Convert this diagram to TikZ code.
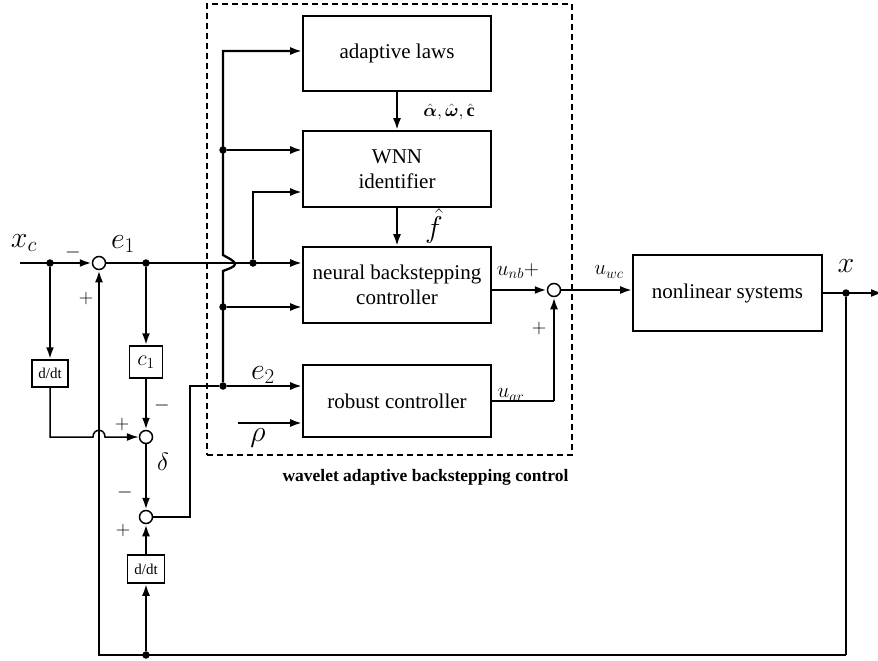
\RequirePackage{fix-cm}
\documentclass[tikz,border=0pt]{standalone}
\usepackage{amsmath}
\usepackage{fontspec}
\setmainfont{Liberation Serif}
\usetikzlibrary{arrows.meta}
\begin{document}
\begin{tikzpicture}[x=1pt,y=-1pt,
 blk/.style={draw, line width=1.6pt, inner sep=0, align=center, font=\fontsize{21}{25}\selectfont},
 smb/.style={draw, line width=1.5pt, inner sep=0, font=\fontsize{15}{17}\selectfont},
 sumc/.style={circle, draw, fill=white, line width=1.5pt, minimum size=13pt, inner sep=0},
 dot/.style={circle, fill=black, minimum size=7.5pt, inner sep=0},
 ar/.style={line width=2.3pt, -{Latex[length=12pt,width=8pt]}},
 arm/.style={line width=1.5pt, -{Latex[length=12pt,width=8pt]}},
 ln/.style={line width=2.3pt},
 tn/.style={line width=1.5pt},
 lbl/.style={font=\fontsize{30}{32}\selectfont, inner sep=0},
 ulbl/.style={font=\fontsize{21}{23}\selectfont, inner sep=0},
 sgn/.style={font=\fontsize{20}{22}\selectfont, inner sep=0}
]
\useasboundingbox (0,0) rectangle (878,661);
% dashed frame
\node[draw, dashed, line width=1.6pt, dash pattern=on 6pt off 4pt, minimum width=365pt, minimum height=451pt, inner sep=0] (frame) at (389.5,229.5) {};
\node[font=\fontsize{17.5}{20}\selectfont\bfseries, inner sep=0] (title) at (425.5,477) {wavelet adaptive backstepping control};
% blocks
\node[blk, minimum width=188pt, minimum height=75pt] (adapt) at (397,53.5) {adaptive laws};
\node[blk, minimum width=188pt, minimum height=76pt] (wnn) at (397,169) {WNN\\identifier};
\node[blk, minimum width=188pt, minimum height=76pt] (nbc) at (397,285) {neural backstepping\\controller};
\node[blk, minimum width=188pt, minimum height=72pt] (rob) at (397,401) {robust controller};
\node[blk, minimum width=189pt, minimum height=76pt] (nls) at (727.5,293) {nonlinear systems};
\node[smb, minimum width=36pt, minimum height=27pt] (dd1) at (50,373.5) {d/dt};
\node[smb, minimum width=33pt, minimum height=32pt, font=\fontsize{22}{24}\selectfont] (c1) at (146,362) {$c_1$};
\node[smb, minimum width=37pt, minimum height=28pt] (dd2) at (146,569) {d/dt};
% summing junctions
\node[sumc] (s1) at (99,263) {};
\node[sumc] (s2) at (146,437) {};
\node[sumc] (s3) at (146,517) {};
\node[sumc] (s4) at (554,290) {};
% dots and coordinates
\coordinate (in) at (20,263);
\node[dot] (j1) at (50,263) {};
\node[dot] (je1) at (146,263) {};
\node[dot] (jv) at (253,263) {};
\node[dot] (j2) at (223,150) {};
\node[dot] (j3) at (223,307) {};
\node[dot] (j4) at (223,386) {};
\node[dot] (jb) at (146,655) {};
\node[dot] (jx) at (846,293) {};
\coordinate (k1) at (190,386);
\coordinate (t1) at (223,51);
\coordinate (t2) at (253,192);
\coordinate (bl) at (846,655);
\coordinate (rho) at (238,423);
\coordinate (out) at (883,293);
% connectors
\draw[ar] (in) -- (s1.west);
\draw[ar] (j1) -- (dd1.north);
\draw[arm] (dd1.south) -- (50,437) -- (93,437) .. controls (93,428) and (105,428) .. (105,437) -- (s2.west);
\draw[ar] (s1.east) -- (nbc.west |- s1);
\draw[ar] (je1) -- (c1.north);
\draw[ar] (c1.south) -- (s2.north);
\draw[ar] (s2.south) -- (s3.north);
\draw[ar] (jb) -- (dd2.south);
\draw[ar] (dd2.north) -- (s3.south);
\draw[tn] (s3.east) -| (k1) -- (j4);
\draw[ar] (j4) -- (rob.west |- j4);
\draw[ar] (j4) -- (223,271) .. controls (228,269) and (235,267) .. (235,264) .. controls (235,261) and (228,258) .. (223,255) -- (t1) -- (adapt.west |- t1);
\draw[ar] (j2) -- (wnn.west |- j2);
\draw[ar] (j3) -- (nbc.west |- j3);
\draw[ar] (jv) -- (t2) -- (wnn.west |- t2);
\draw[ar] (adapt) -- (wnn);
\draw[ar] (wnn) -- (nbc);
\draw[ar] (rho) -- (rob.west |- rho);
\draw[ar] (nbc.east |- s4) -- (s4.west);
\draw[tn] (rob.east) -- (rob.east -| s4);
\draw[ar] (rob.east -| s4) -- (s4.south);
\draw[ar] (s4.east) -- (nls.west |- s4);
\draw[ar] (nls.east) -- (out);
\draw[tn] (jx) -- (bl);
\draw[ar] (bl) -- (jb.center) -| (s1.south);
% labels
\node[lbl] (lxc) at (24,243) {$x_c$};
\node[sgn] (m1) at (73,252) {$-$};
\node[lbl] (le1) at (123,244) {$e_1$};
\node[sgn] (p1) at (86,298) {$+$};
\node[sgn] (m2) at (162,405) {$-$};
\node[sgn] (p2) at (122,424) {$+$};
\node[lbl, font=\fontsize{25}{27}\selectfont] (ldel) at (163,462) {$\delta$};
\node[sgn] (m3) at (125,492) {$-$};
\node[sgn] (p3) at (123,530) {$+$};
\node[lbl] (le2) at (263,375) {$e_2$};
\node[lbl] (lrho) at (258,438) {$\rho$};
\node[ulbl, font=\fontsize{18}{20}\selectfont] (lhat) at (449,112) {$\hat{\boldsymbol{\alpha}},\hat{\boldsymbol{\omega}},\hat{\mathbf{c}}$};
\node[lbl] (lf) at (434,226) {$\hat{f}$};
\node[ulbl] (lunb) at (518,271) {$u_{nb}+$};
\node[sgn] (p4) at (539,328) {$+$};
\node[ulbl] (luar) at (511,395) {$u_{ar}$};
\node[ulbl] (luwc) at (609,272) {$u_{wc}$};
\node[lbl] (lx) at (846,266) {$x$};
\end{tikzpicture}
\end{document}
